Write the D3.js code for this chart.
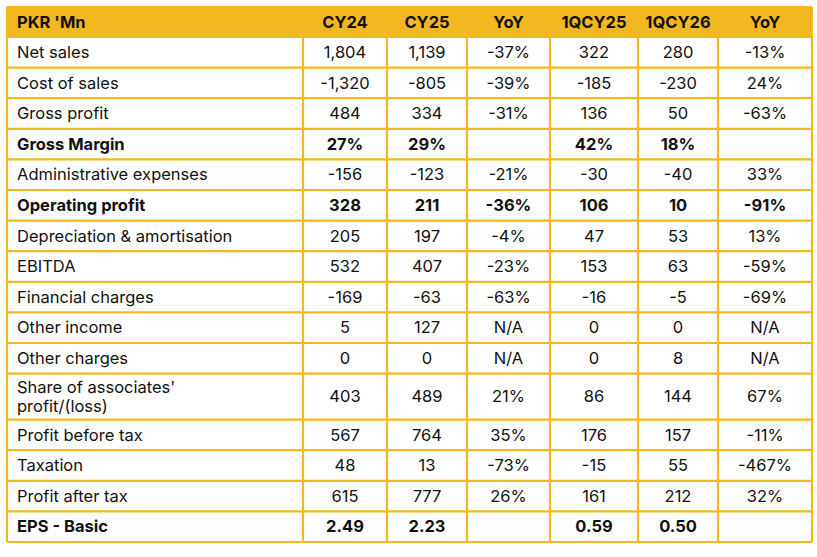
<html>
<head>
<script src="https://cdn.jsdelivr.net/npm/d3@7"></script>
<style>
  html, body { margin: 0; padding: 0; background: #fff; }
  text { font-family: Inter, "Open Sans", sans-serif; font-size: 16.5px; fill: #111; }
</style>
</head>
<body>
<svg id="chart" width="817" height="557"></svg>
<script>
var headers = ["PKR 'Mn", "CY24", "CY25", "YoY", "1QCY25", "1QCY26", "YoY"];
var labels = ["Net sales", "Cost of sales", "Gross profit", "Gross Margin", "Administrative expenses",
  "Operating profit", "Depreciation & amortisation", "EBITDA", "Financial charges", "Other income",
  "Other charges", "Share of associates'\nprofit/(loss)", "Profit before tax", "Taxation",
  "Profit after tax", "EPS - Basic"];
var cy24 = ["1,804", "-1,320", "484", "27%", "-156", "328", "205", "532", "-169", "5", "0", "403", "567", "48", "615", "2.49"];
var cy25 = ["1,139", "-805", "334", "29%", "-123", "211", "197", "407", "-63", "127", "0", "489", "764", "13", "777", "2.23"];
var yoy1 = ["-37%", "-39%", "-31%", "", "-21%", "-36%", "-4%", "-23%", "-63%", "N/A", "N/A", "21%", "35%", "-73%", "26%", ""];
var q25 = ["322", "-185", "136", "42%", "-30", "106", "47", "153", "-16", "0", "0", "86", "176", "-15", "161", "0.59"];
var q26 = ["280", "-230", "50", "18%", "-40", "10", "53", "63", "-5", "0", "8", "144", "157", "55", "212", "0.50"];
var yoy2 = ["-13%", "24%", "-63%", "", "33%", "-91%", "13%", "-59%", "-69%", "N/A", "N/A", "67%", "-11%", "-467%", "32%", ""];
var boldRows = ["Gross Margin", "Operating profit", "EPS - Basic"];

var yellow = "#F3B71F";
var colEdges = [7, 303, 387, 467, 550, 638, 718, 812];
var svg = d3.select("#chart");

// row heights: header + data rows (two-line row is taller)
var heights = [30].concat(labels.map(function(l) { return l.indexOf("\n") >= 0 ? 46 : 30.6; }));
var tops = [7];
heights.forEach(function(h, i) { tops.push(tops[i] + h); });

var rows = labels.map(function(l, i) {
  return [l, cy24[i], cy25[i], yoy1[i], q25[i], q26[i], yoy2[i]];
});

// header band
svg.append("rect").attr("x", colEdges[0]).attr("y", tops[0])
  .attr("width", colEdges[7] - colEdges[0]).attr("height", heights[0]).attr("fill", yellow);

// horizontal lines
svg.selectAll("line.h").data(tops).enter().append("line")
  .attr("x1", colEdges[0]).attr("x2", colEdges[7])
  .attr("y1", function(d) { return d; }).attr("y2", function(d) { return d; })
  .attr("stroke", yellow).attr("stroke-width", 2.2);

// vertical lines (inner ones only below header)
svg.selectAll("line.v").data(colEdges).enter().append("line")
  .attr("x1", function(d) { return d; }).attr("x2", function(d) { return d; })
  .attr("y1", function(d, i) { return (i === 0 || i === 7) ? tops[0] : tops[1]; })
  .attr("y2", tops[tops.length - 1])
  .attr("stroke", yellow).attr("stroke-width", 2.2);

function cellX(j) {
  return j === 0 ? colEdges[0] + 10 : (colEdges[j] + colEdges[j + 1]) / 2;
}

// header text
svg.selectAll("text.hd").data(headers).enter().append("text")
  .attr("x", function(d, j) { return cellX(j); })
  .attr("y", tops[0] + heights[0] / 2)
  .attr("dy", "0.35em")
  .attr("text-anchor", function(d, j) { return j === 0 ? "start" : "middle"; })
  .attr("font-weight", "bold")
  .text(function(d) { return d; });

// body
var g = svg.selectAll("g.row").data(rows).enter().append("g")
  .attr("font-weight", function(d) { return boldRows.indexOf(d[0]) >= 0 ? "bold" : null; });

g.each(function(r, i) {
  var top = tops[i + 1], h = heights[i + 1];
  var sel = d3.select(this);
  r.forEach(function(v, j) {
    var lines = v.split("\n");
    var t = sel.append("text")
      .attr("x", cellX(j))
      .attr("text-anchor", j === 0 ? "start" : "middle")
      .attr("font-weight", boldRows.indexOf(r[0]) >= 0 ? "bold" : "normal");
    lines.forEach(function(s, k) {
      t.append("tspan").attr("x", cellX(j))
        .attr("y", top + h / 2 + (k - (lines.length - 1) / 2) * 19)
        .attr("dy", "0.35em").text(s);
    });
  });
});
</script>
</body>
</html>
